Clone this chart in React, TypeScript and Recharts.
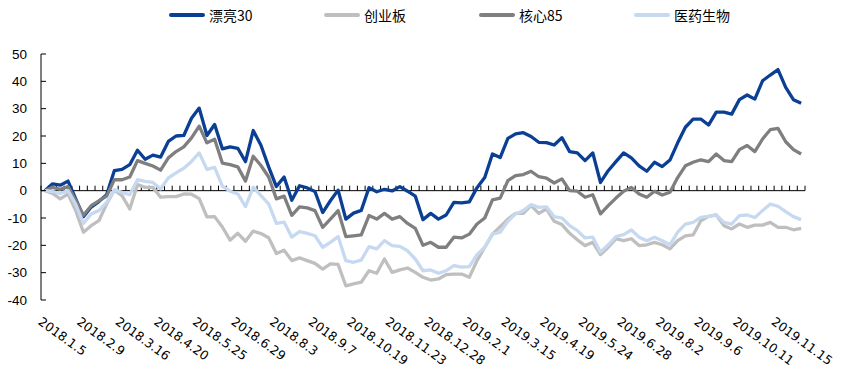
import { Legend, Line, LineChart, ReferenceLine, XAxis, YAxis } from 'recharts';

// weekly cumulative change (%) since 2018.1.5
const xLabels = [
  '2018.1.5', '2018.2.9', '2018.3.16', '2018.4.20', '2018.5.25', '2018.6.29', '2018.8.3',
  '2018.9.7', '2018.10.19', '2018.11.23', '2018.12.28', '2019.2.1', '2019.3.15', '2019.4.19',
  '2019.5.24', '2019.6.28', '2019.8.2', '2019.9.6', '2019.10.11', '2019.11.15',
];

const piaoliang30 = [
  0, 2.5, 2, 3.5, -3, -9.5, -6, -4, -1.5, 7.3,
  7.8, 9.5, 14.8, 11.5, 13, 12.3, 18, 20, 20.2, 26.5,
  30.2, 20.2, 24.2, 15.3, 16, 15.5, 10.6, 22, 16.6, 8.7,
  1.5, 5, -3.5, 1.8, 1, -0.3, -8, -3.7, 0.2, -10.4,
  -8.2, -7.2, 1.1, -0.4, 0.5, -0.1, 1.5, -0.2, -2, -10.6,
  -8.3, -10.4, -8.9, -4.3, -4.5, -4.1, 1.1, 4.8, 13.4, 12.1,
  19.1, 20.8, 21.2, 19.8, 17.7, 17.6, 16.7, 19.4, 14.3, 13.8,
  11, 13.8, 3, 7.3, 10.6, 13.8, 12, 9.1, 7.1, 10.4,
  8.8, 11.2, 17.5, 23.2, 26.2, 26.2, 24, 28.7, 28.7, 28,
  33.3, 35, 33.5, 40.2, 42.3, 44.3, 37.8, 33.3, 32,
];

const chuangyeban = [
  0, -1, -3, -1.2, -7.3, -15.2, -12.8, -11, -4.9, 0.2,
  -1.8, -6.7, 2.2, 1.2, 1.2, -2.4, -2.2, -2.2, -1.2, -1.3,
  -2.9, -9.6, -9.5, -13.3, -18.1, -15.6, -18.5, -14.8, -15.7, -17.2,
  -23, -21.8, -25.6, -24.6, -25.6, -26.6, -28.7, -26.8, -27, -34.8,
  -34.1, -33.5, -29.3, -30.2, -25, -29.9, -29, -28.3, -29.9, -31.7,
  -32.7, -32.3, -30.7, -30.5, -30.5, -31.7, -25.6, -20.7, -15.9, -13.2,
  -10.4, -8.3, -8.3, -5.5, -8.3, -6.7, -11.2, -12.4, -15.6, -18,
  -20.1, -18.9, -23.4, -20.7, -17.6, -18.3, -17.6, -20.1, -19.8, -18.9,
  -19.8, -21.3, -18.3, -16.5, -16.2, -11, -9.4, -8.9, -12.8, -14,
  -12.2, -13.4, -12.6, -12.6, -11.6, -13.4, -13.4, -14.3, -13.8,
];

const hexin85 = [
  0, 1.2, 0.5, 1.5, -3.5, -9, -5.5, -3.7, -2, 4,
  4, 5, 11, 10, 9, 7.5, 12, 14.3, 16, 19.3,
  23.6, 17.5, 18.8, 10.1, 9.5, 8.7, 3.5, 12.6, 9.2, 5,
  -3, -2, -9, -5.9, -6.3, -7.3, -13.4, -10.4, -7.3, -16.8,
  -16.5, -16.2, -9.1, -10.4, -8.3, -10.4, -9.5, -12, -13.8, -20,
  -18.9, -20.7, -20.7, -17, -17.3, -15.9, -12.2, -10, -3.4, -2.7,
  3.7, 5.5, 5.9, 7.1, 5.1, 4.6, 2.8, 4.3, 0, -0.2,
  -2.4, -1.5, -8.5, -5.5, -2.7, -0.2, 1.2, -1.2, -2.4, -0.2,
  -1.6, -0.6, 4.8, 9.1, 10.4, 11.3, 10.6, 13.4, 11, 10.6,
  15, 16.5, 14.3, 18.9, 22.3, 22.8, 17.9, 15, 13.4,
];

const yiyaoshengwu = [
  0, -0.3, -1, 0, -5, -12, -8.5, -7.3, -4.3, 0.3,
  -0.6, -1.5, 4, 3.4, 3, 0.6, 4.7, 6.5, 8.2, 10.7,
  13.8, 7.8, 8.5, 1.7, -0.2, -1.2, -5.8, 1.3, -1.8, -4.8,
  -12, -11.5, -17, -15, -15.6, -16.5, -20.7, -18.9, -16.8, -25.6,
  -26.2, -25.4, -20.5, -21.3, -18.3, -20.1, -20.4, -22, -25, -29.3,
  -29, -30.2, -29.3, -27.4, -28, -27.8, -23.4, -20.7, -15.9, -15.2,
  -11.2, -8.5, -7.3, -5.1, -6.1, -5.9, -9.5, -10, -12.8, -14.6,
  -17.3, -17, -22.5, -19.8, -16.8, -16.1, -14.4, -17, -18.3, -17,
  -18.3, -19.8, -15.2, -12.2, -11.6, -9.8, -9.4, -8.9, -11.6, -12.2,
  -9.1, -8.9, -9.8, -7.3, -4.9, -5.7, -7.7, -9.5, -10.6,
];

const yTicks = [-40, -30, -20, -10, 0, 10, 20, 30, 40, 50];

const series = [
  { key: 'pl30', name: '漂亮30', color: '#0A3F94', values: piaoliang30 },
  { key: 'cyb', name: '创业板', color: '#BFBFBF', values: chuangyeban },
  { key: 'hx85', name: '核心85', color: '#7F7F7F', values: hexin85 },
  { key: 'yysw', name: '医药生物', color: '#C6D9F0', values: yiyaoshengwu },
];

const data = piaoliang30.map((_, i) => {
  const row: Record<string, number> = { week: i };
  series.forEach((s) => {
    row[s.key] = s.values[i];
  });
  return row;
});

// a label every 5 weeks
const labelWeeks = xLabels.map((_, k) => k * 5);

const WIDTH = 844;
const HEIGHT = 379;
const margin = { top: 54, right: 39, bottom: 0, left: 0 };
const Y_AXIS_W = 41;
const band = (WIDTH - margin.left - margin.right - Y_AXIS_W) / data.length;

const XTick = ({ x, y, payload }: any) => (
  <text
    x={x - 2}
    y={y}
    dy="0.75em"
    textAnchor="start"
    transform={`rotate(36, ${x - 2}, ${y})`}
    fontSize={12.5}
    fontFamily="DejaVu Sans"
    fill="#000"
  >
    {xLabels[payload.value / 5]}
  </text>
);

const YTick = ({ x, y, payload }: any) => (
  <g>
    <line x1={x + 14} x2={x + 19} y1={y} y2={y} stroke="#000" />
    <text
      x={x}
      y={y}
      dy="0.35em"
      textAnchor="end"
      fontSize={13.5}
      fontFamily="Liberation Sans"
      fill="#000"
    >
      {payload.value}
    </text>
  </g>
);

// zero line with a tick at every week boundary
const ZeroAxis = (props: any) => {
  const { x1, x2, y1 } = props;
  const left = Math.min(x1, x2);
  const right = Math.max(x1, x2);
  const step = (right - left) / data.length;
  return (
    <g>
      <line x1={left} x2={right} y1={y1} y2={y1} stroke="#000" strokeWidth={1} />
      {Array.from({ length: data.length + 1 }, (_, k) => (
        <line
          key={k}
          x1={left + k * step}
          x2={left + k * step}
          y1={y1}
          y2={y1 - 5}
          stroke="#000"
          strokeWidth={1}
        />
      ))}
    </g>
  );
};

const LegendContent = () => (
  <div style={{ display: 'flex' }}>
    {series.map((s) => (
      <div key={s.key} style={{ width: 155, display: 'flex', alignItems: 'center' }}>
        <span
          style={{
            display: 'inline-block',
            width: 36,
            height: 4,
            borderRadius: 2,
            background: s.color,
          }}
        />
        <span
          style={{
            marginLeft: 4,
            fontSize: 14,
            lineHeight: '20px',
            fontFamily: '"Noto Sans CJK SC"',
            color: '#000',
          }}
        >
          {s.name}
        </span>
      </div>
    ))}
  </div>
);

export default function App() {
  return (
    <div style={{ position: 'absolute', left: 0, top: 0, background: '#fff' }}>
      <LineChart width={WIDTH} height={HEIGHT} data={data} margin={margin}>
        <XAxis
          dataKey="week"
          type="category"
          scale="point"
          padding={{ left: band / 2, right: band / 2 }}
          height={79}
          ticks={labelWeeks}
          interval={0}
          axisLine={false}
          tickLine={false}
          tickSize={0}
          tickMargin={16}
          tick={<XTick />}
        />
        <YAxis
          width={Y_AXIS_W}
          domain={[-40, 50]}
          ticks={yTicks}
          interval={0}
          axisLine={{ stroke: '#000' }}
          tickLine={false}
          tickSize={0}
          tickMargin={14}
          tick={<YTick />}
        />
        <ReferenceLine y={0} shape={<ZeroAxis />} />
        <Legend
          verticalAlign="middle"
          align="center"
          wrapperStyle={{ top: 5, left: 169, width: 660 }}
          content={<LegendContent />}
        />
        {series.map((s) => (
          <Line
            key={s.key}
            dataKey={s.key}
            name={s.name}
            type="linear"
            stroke={s.color}
            strokeWidth={3.3}
            strokeLinejoin="round"
            dot={false}
            isAnimationActive={false}
          />
        ))}
      </LineChart>
    </div>
  );
}
